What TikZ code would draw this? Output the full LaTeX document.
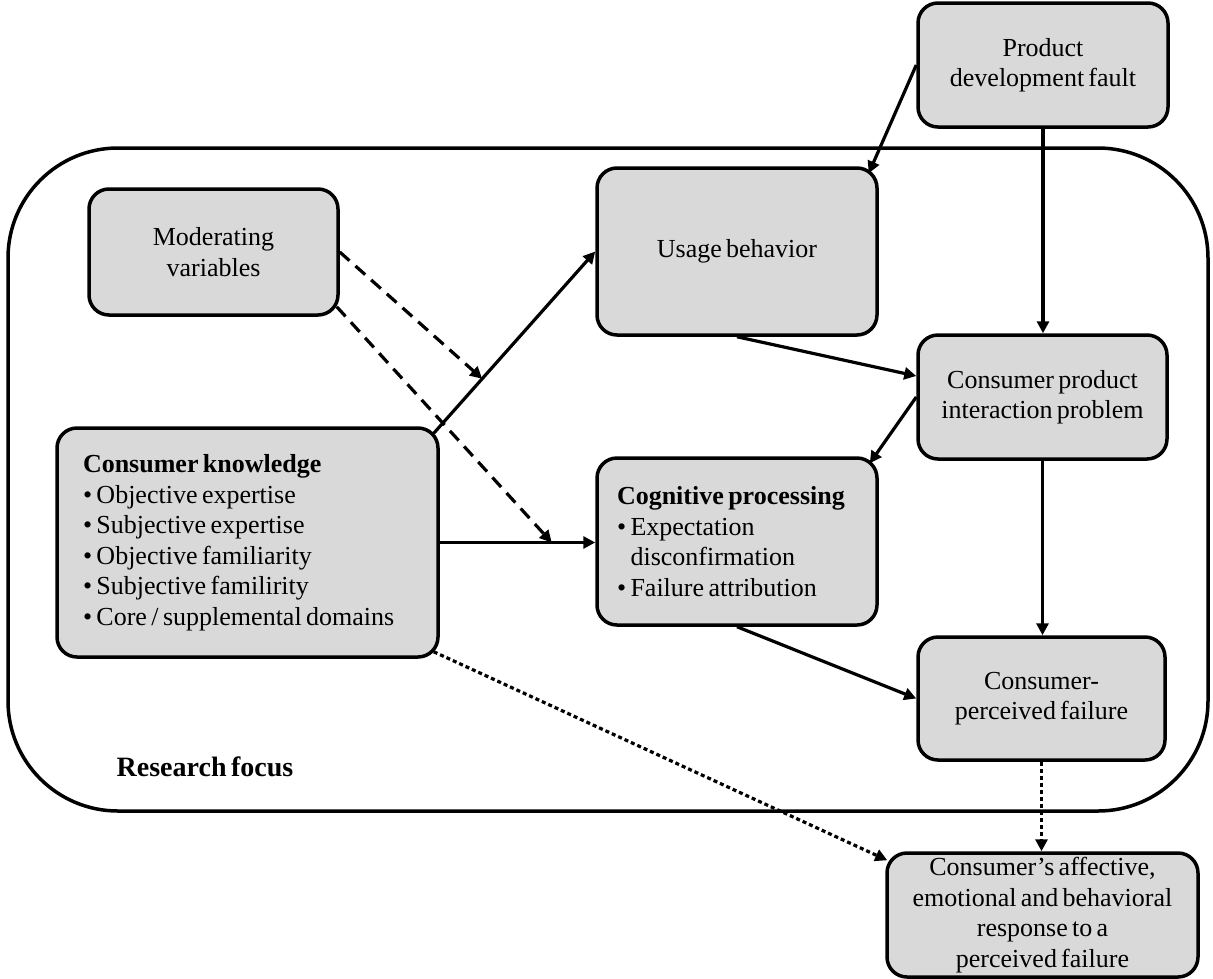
\documentclass[tikz,border=0pt]{standalone}
\usepackage{fontspec}
\setmainfont{Liberation Serif}[WordSpace=0.65]
\usetikzlibrary{arrows.meta,calc}
\definecolor{boxgray}{HTML}{D9D9D9}
\newcommand{\tightsp}{\spaceskip=0.17em\relax\xspaceskip=0.17em\relax}
\begin{document}
\begin{tikzpicture}[x=1pt,y=-1pt,
  box/.style={draw=black, line width=3.5pt, fill=boxgray, rounded corners=20pt, align=center, inner sep=0pt, font=\fontsize{26}{30.5}\selectfont},
  listbox/.style={box, align=left},
  arr/.style={line width=3.2pt, -{Triangle[length=12pt,width=12pt]}},
  dasharr/.style={arr, dash pattern=on 13pt off 8pt},
  dotarr/.style={arr, dash pattern=on 4pt off 3pt},
  frame/.style={draw=black, line width=3.5pt, rounded corners=110pt, inner sep=0pt}
]
\useasboundingbox (0,0) rectangle (1213,978);
\node[frame, minimum width=1200pt, minimum height=663pt] (rf) at (608,479.5) {};
\node[font=\bfseries\fontsize{28}{32}\selectfont] (rflabel) at (205,767) {Research focus};

\node[box, minimum width=250pt, minimum height=124pt] (prod) at (1043,65) {Product\\development fault};
\node[box, minimum width=249pt, minimum height=126pt] (mod) at (213.5,252) {Moderating\\variables};
\node[box, minimum width=280pt, minimum height=167pt] (ub) at (737,251.5) {Usage behavior};
\node[box, minimum width=249pt, minimum height=124pt] (cpi) at (1042.5,397) {Consumer product\\interaction problem};
\node[listbox, text width=329pt, inner xsep=26pt, minimum width=381pt, minimum height=229pt] (ck) at (247.5,542.5)
  {\tightsp\textbf{Consumer knowledge}\\
   \textbullet\ Objective expertise\\
   \textbullet\ Subjective expertise\\
   \textbullet\ Objective familiarity\\
   \textbullet\ Subjective familirity\\
   \textbullet\ Core / supplemental domains};
\node[listbox, text width=240pt, inner xsep=20pt, minimum width=280pt, minimum height=167pt] (cog) at (737,541.5)
  {\tightsp\textbf{Cognitive processing}\\
   \textbullet\ Expectation\\
   \hphantom{\textbullet\ }disconfirmation\\
   \textbullet\ Failure attribution};
\node[box, minimum width=247pt, minimum height=123pt] (cpf) at (1041.5,698.5) {Consumer-\\perceived failure};
\node[box, minimum width=311pt, minimum height=124pt] (resp) at (1042.5,915) {Consumer’s affective,\\emotional and behavioral\\response to a\\perceived failure};

\draw[arr] (prod.west) -- ($(ub.north east)+(-10,7)$);
\draw[arr] (prod.south) -- (prod.south |- cpi.north);
\draw[arr] (ub.south) -- ($(cpi.west)+(0,-21)$);
\draw[arr] (cpi.west) -- ($(cog.north east)+(-9,7)$);
\draw[arr] (cpi.south) -- (cpi.south |- cpf.north);
\draw[arr] (cog.south) -- (cpf.west);
\draw[dotarr] (cpf.south) -- (cpf.south |- resp.north);
\draw[dotarr] ($(ck.south east)+(-6,-7)$) -- ($(resp.north west)+(2,9)$);
\draw[arr] ($(ck.north east)+(-6,7)$) -- coordinate[pos=0.30] (m1) (ub.west);
\draw[arr] (ck.east) -- coordinate[pos=0.72] (m2) (ck.east -| cog.west);
\draw[dasharr] (mod.east) -- (m1);
\draw[dasharr] ($(mod.south east)+(-3,-10)$) -- (m2);
\end{tikzpicture}
\end{document}
